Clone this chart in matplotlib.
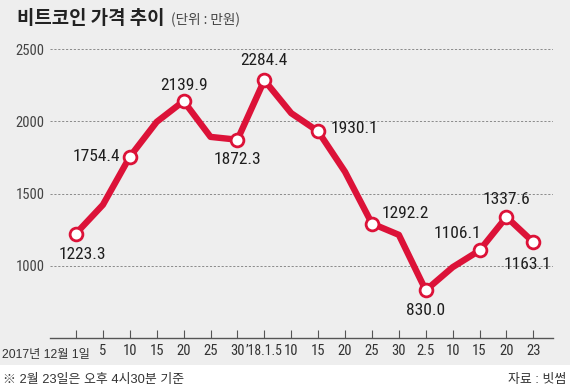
import matplotlib
matplotlib.use("Agg")
import matplotlib.pyplot as plt
from matplotlib import font_manager as fm
from matplotlib.patches import Rectangle

# ---- data ----
tick_labels = ['', '5', '10', '15', '20', '25', '30', '\u201918.1.5', '10', '15',
               '20', '25', '30', '2.5', '10', '15', '20', '23']
first_label = '2017년 12월 1일'
values = [1223.3, 1422, 1754.4, 1996, 2139.9, 1892, 1872.3, 2284.4, 2056,
          1930.1, 1650, 1292.2, 1214, 830.0, 990, 1106.1, 1337.6, 1163.1]
labeled_idx = [0, 2, 4, 6, 7, 9, 11, 13, 15, 16, 17]
y_ticks = [1000, 1500, 2000, 2500]
title = '비트코인 가격 추이'
unit = '(단위 : 만원)'
footnote = '※ 2월 23일은 오후 4시30분 기준'
source = '자료 : 빗썸'

# ---- style: label offsets (pixels) and alignment ----
label_style = {
    0: (6, -21, 'center'),
    2: (-10, 0, 'right'),
    4: (0, 16, 'center'),
    6: (0, -20, 'center'),
    7: (0, 20, 'center'),
    9: (12, 3, 'left'),
    11: (10, 10, 'left'),
    13: (0, -20, 'center'),
    15: (2, 17, 'right'),
    16: (0, 17, 'center'),
    17: (-6, -22, 'center'),
}

# look for a condensed face; otherwise use Liberation Sans at smaller sizes
narrow_path = None
for f in fm.fontManager.ttflist:
    fn = f.fname.lower()
    if ('narrow' in fn or 'condensed' in fn) and 'bold' not in fn and 'oblique' not in fn \
            and 'italic' not in fn and 'mono' not in fn:
        narrow_path = f.fname
        if 'liberationsansnarrow' in fn.replace('-', '').replace('_', ''):
            break

kr = 'Noto Sans CJK KR'
fam = ['Liberation Sans', kr, 'DejaVu Sans']
plt.rcParams['font.family'] = fam

if narrow_path:
    num_fp = dict(fontproperties=fm.FontProperties(fname=narrow_path))
    val_size, tick_size = 12.5, 10.5
else:
    num_fp = dict(family=fam)
    val_size, tick_size = 10.5, 9

RED = '#dc1238'
BG = '#eeeeee'

fig = plt.figure(figsize=(5.7, 3.9), dpi=100, facecolor=BG)
fig.patches.append(Rectangle((0, 0), 1, 25 / 390, transform=fig.transFigure,
                             facecolor='white', edgecolor='none', zorder=0))

ax = fig.add_axes([50 / 570, 52 / 390, 503 / 570, 303.4 / 390])
ax.set_facecolor('none')
x = list(range(len(values)))
ax.set_xlim(-0.967, 17.73)
ax.set_ylim(500, 2600)

for yv in y_ticks:
    ax.axhline(yv, color='#8a8a8a', lw=0.7, ls=(0, (2.2, 1.8)), zorder=1)

ax.plot(x, values, color=RED, lw=4.6, solid_joinstyle='round',
        solid_capstyle='round', zorder=3)
ax.plot([x[i] for i in labeled_idx], [values[i] for i in labeled_idx],
        ls='none', marker='o', ms=9.2, mfc='white', mec=RED, mew=2.0, zorder=4)

for i in labeled_idx:
    dx, dy, ha = label_style[i]
    t = ax.annotate(f'{values[i]:.1f}', (x[i], values[i]), xytext=(dx, dy),
                    textcoords='offset pixels', ha=ha, va='center',
                    color='#1e1e1e', zorder=5, **num_fp)
    t.set_fontsize(val_size)

for s in ['left', 'right', 'top']:
    ax.spines[s].set_visible(False)
ax.spines['bottom'].set_color('#555555')
ax.spines['bottom'].set_linewidth(1.0)

ax.set_yticks(y_ticks)
ax.set_yticklabels([str(v) for v in y_ticks])
ax.tick_params(axis='y', length=0, pad=4, labelcolor='#444444')
ax.set_xticks(x)
ax.set_xticklabels(tick_labels)
ax.tick_params(axis='x', direction='in', length=5.5, width=0.8, color='#555555',
               pad=4, labelcolor='#333333')
for lab in ax.get_xticklabels() + ax.get_yticklabels():
    if narrow_path:
        lab.set_fontproperties(num_fp['fontproperties'])
    lab.set_fontsize(tick_size)
    if len(lab.get_text()) > 4:
        lab.set_fontsize(tick_size * 0.94)

ax.text(0.52, -0.035, first_label, transform=ax.get_xaxis_transform(),
        ha='right', va='top', fontsize=8.8, color='#333333', family=fam)

fig.text(17 / 570, 1 - 18 / 390, title, fontsize=13.6, fontweight='bold',
         color='#222222', family=[kr], va='center', ha='left')
fig.text(171 / 570, 1 - 20 / 390, unit, fontsize=9.8, color='#444444',
         family=[kr], va='center', ha='left')
fig.text(3 / 570, 10 / 390, footnote, fontsize=9.3, color='#333333',
         family=fam, va='center', ha='left')
fig.text(566 / 570, 10 / 390, source, fontsize=9.3, color='#333333',
         family=fam, va='center', ha='right')

fig.savefig('out.png', dpi=100, facecolor=BG)
